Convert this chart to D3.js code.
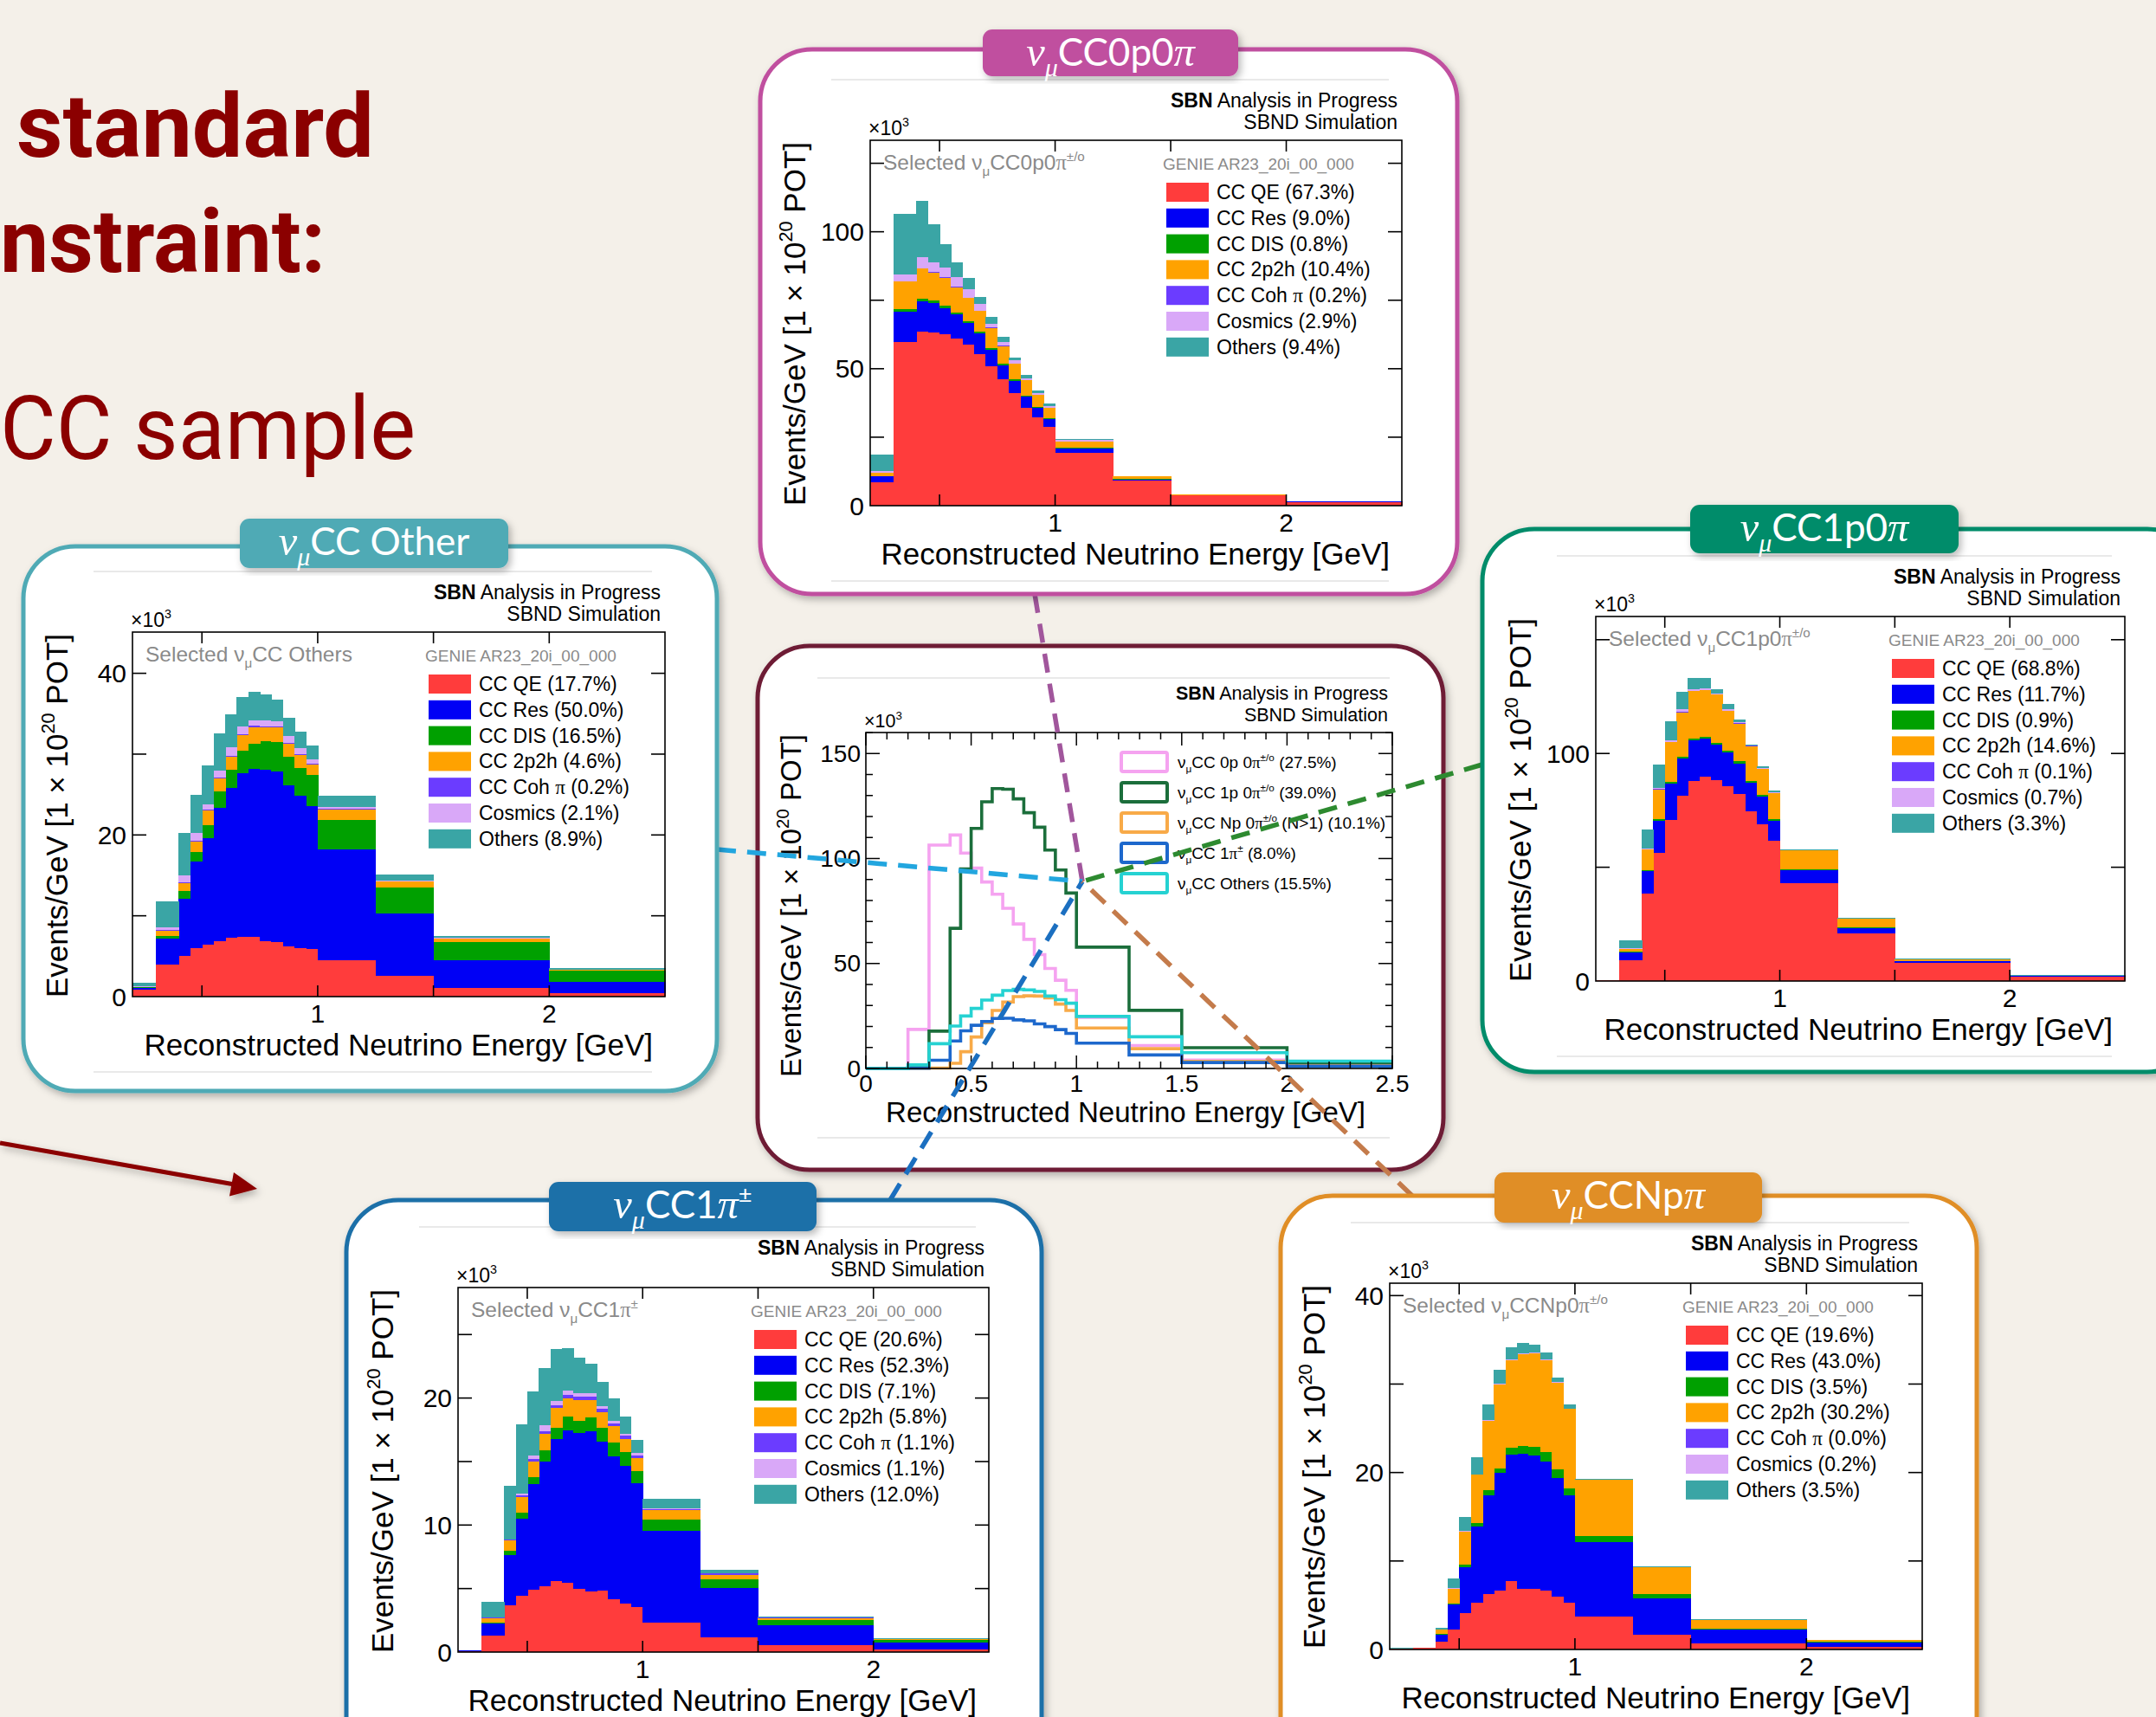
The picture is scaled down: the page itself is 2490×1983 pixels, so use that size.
<!DOCTYPE html>
<html><head><meta charset="utf-8">
<script src="https://cdn.jsdelivr.net/npm/d3@7"></script>
<style>html,body{margin:0;padding:0;background:#f4f0e9;}svg{display:block}</style>
</head><body>
<svg id="c" width="2490" height="1983"></svg>
<script>
// ---------------- DATA ----------------
const edges = [0.2,0.3,0.4,0.45,0.5,0.55,0.6,0.65,0.7,0.75,0.8,0.85,0.9,0.95,1.0,1.25,1.5,2.0,2.5];
const compKeys = ["qe","res","dis","mec","coh","cos","oth"];
const compNames = ["CC QE","CC Res","CC DIS","CC 2p2h","CC Coh #pi","Cosmics","Others"];
const compColors = ["#ff3c3c","#0000f5","#00a000","#ffa200","#6b3cff","#d9a8f8","#3aa5a5"];

// nu_mu CC0p0pi (x10^3 events/GeV)
const cc0p0pi_qe  = [8.6,59.9,63.6,63.2,62.5,60.9,58.8,55.4,50.9,46.1,41.0,35.6,32.1,28.7,19.2,9.2,3.7,1.4];
const cc0p0pi_res = [2.1,11.0,11.0,10.9,9.7,8.9,8.0,7.5,6.1,5.2,4.6,4.3,3.5,2.8,1.7,0.4,0.1,0.1];
const cc0p0pi_dis = [0.1,0.9,0.9,0.8,0.8,0.7,0.6,0.6,0.6,0.5,0.4,0.4,0.4,0.3,0.3,0.1,0.05,0.02];
const cc0p0pi_mec = [1.2,10.0,11.0,10.2,10.2,9.3,8.4,7.6,7.3,6.5,5.9,5.5,4.4,3.8,2.3,1.0,0.15,0.05];
const cc0p0pi_coh = [0.0,0.2,0.2,0.2,0.1,0.1,0.1,0.1,0.1,0.1,0.1,0.1,0.1,0.1,0.0,0.0,0.0,0.0];
const cc0p0pi_cos = [0.5,2.5,4.1,3.6,3.7,3.4,3.0,2.4,1.3,1.4,1.0,0.6,0.5,0.6,0.4,0.1,0.0,0.0];
const cc0p0pi_oth = [6.1,21.9,20.4,13.7,8.4,5.5,4.1,2.7,2.5,1.7,1.2,1.1,1.0,0.9,0.5,0.1,0.05,0.05];
const cc0p0pi_pct = [67.3,9.0,0.8,10.4,0.2,2.9,9.4];

// nu_mu CC Other
const ccOther_qe  = [0.86,4.0,5.0,6.0,6.4,6.9,7.3,7.4,7.4,6.9,6.7,6.2,6.0,5.9,4.45,2.6,1.1,0.48];
const ccOther_res = [0.25,3.2,7.1,10.7,13.2,16.5,18.5,20.2,20.8,21.2,21.1,19.9,18.8,17.7,13.75,7.7,3.4,1.3];
const ccOther_dis = [0.05,0.3,1.0,1.2,1.6,2.0,2.3,2.8,3.1,3.5,3.7,3.6,3.5,3.8,3.7,3.2,2.3,1.45];
const ccOther_mec = [0.05,0.65,0.9,1.3,1.8,1.6,1.6,2.0,2.0,1.7,1.8,1.6,1.6,1.3,1.2,0.7,0.4,0.1];
const ccOther_coh = [0.0,0.1,0.1,0.1,0.1,0.1,0.1,0.1,0.2,0.1,0.1,0.1,0.1,0.1,0.1,0.05,0.02,0.01];
const ccOther_cos = [0.05,0.35,0.9,0.9,0.7,0.9,1.0,0.9,0.7,0.8,0.7,0.8,0.7,0.6,0.3,0.1,0.05,0.01];
const ccOther_oth = [0.45,3.2,5.2,4.8,4.8,4.6,4.1,3.7,3.5,3.2,2.6,2.3,2.1,1.7,1.3,0.75,0.25,0.15];
const ccOther_pct = [17.7,50.0,16.5,4.6,0.2,2.1,8.9];

// nu_mu CC1p0pi
const cc1p0pi_qe  = [0.3,9.2,38.4,56.3,70.6,81.3,87.9,89.9,88.3,85.5,82.2,74.7,69.0,61.5,42.9,20.8,7.9,1.9];
const cc1p0pi_res = [0.05,3.3,9.9,14.0,16.0,16.5,17.7,16.7,15.7,14.8,13.5,12.4,11.9,8.8,5.8,2.5,0.8,0.3];
const cc1p0pi_dis = [0.0,0.3,0.3,0.7,0.8,0.8,0.8,0.7,0.8,0.8,0.8,0.8,0.8,0.7,0.5,0.3,0.1,0.05];
const cc1p0pi_mec = [0.0,1.4,9.1,13.2,17.5,19.5,21.1,20.6,21.1,17.7,16.7,15.4,11.5,11.7,8.2,3.8,0.8,0.2];
const cc1p0pi_coh = [0.0,0.0,0.05,0.1,0.1,0.1,0.1,0.1,0.1,0.1,0.1,0.05,0.05,0.05,0.02,0.0,0.0,0.0];
const cc1p0pi_cos = [0.0,0.4,0.5,0.7,0.6,1.1,0.8,0.6,0.3,0.7,0.6,0.3,0.5,0.3,0.1,0.05,0.0,0.0];
const cc1p0pi_oth = [0.15,3.2,8.5,10.0,8.7,7.7,4.9,4.4,2.1,2.2,1.0,0.35,0.8,0.5,0.25,0.25,0.3,0.1];
const cc1p0pi_pct = [68.8,11.7,0.9,14.6,0.1,0.7,3.3];

// nu_mu CC1pi+-
const cc1pi_qe  = [0.1,1.28,3.66,4.41,4.92,5.2,5.61,5.47,5.0,4.78,4.86,4.16,3.85,3.52,2.32,1.15,0.53,0.22];
const cc1pi_res = [0.05,0.98,4.0,6.1,8.32,9.77,11.18,12.0,12.26,12.57,11.73,11.23,10.79,9.78,7.21,3.91,1.59,0.56];
const cc1pi_dis = [0.0,0.09,0.34,0.48,0.53,0.9,0.84,1.06,0.92,1.1,1.09,1.11,1.11,0.97,0.92,0.69,0.37,0.17];
const cc1pi_mec = [0.0,0.33,0.78,1.2,1.2,1.28,1.59,1.45,1.68,1.4,1.2,1.27,1.04,0.98,0.75,0.34,0.19,0.05];
const cc1pi_coh = [0.0,0.03,0.05,0.14,0.2,0.2,0.22,0.28,0.28,0.28,0.28,0.22,0.22,0.2,0.08,0.08,0.03,0.01];
const cc1pi_cos = [0.0,0.03,0.05,0.14,0.28,0.5,0.34,0.3,0.22,0.28,0.23,0.2,0.19,0.22,0.06,0.06,0.02,0.01];
const cc1pi_oth = [0.02,1.2,4.2,5.44,5.1,4.52,4.05,3.35,2.8,2.3,1.87,1.76,1.32,1.03,0.7,0.22,0.09,0.04];
const cc1pi_pct = [20.6,52.3,7.1,5.8,1.1,1.1,12.0];

// nu_mu CCNppi
const ccNppi_qe  = [0.12,0.15,0.88,2.29,4.09,5.3,6.3,6.62,7.7,6.9,6.82,6.7,5.98,5.3,3.69,1.69,0.68,0.28];
const ccNppi_res = [0.02,0.05,0.81,2.81,5.22,8.62,11.15,13.32,14.3,15.25,15.13,14.52,13.43,12.1,8.43,4.13,1.53,0.48];
const ccNppi_dis = [0.0,0.0,0.12,0.12,0.28,0.4,0.55,0.56,0.82,0.88,1.0,1.05,0.93,0.85,0.72,0.4,0.16,0.08];
const ccNppi_mec = [0.0,0.0,0.4,1.68,3.73,5.42,7.84,9.47,9.91,10.37,10.53,10.43,9.83,8.92,6.3,3.09,1.0,0.24];
const ccNppi_coh = [0,0,0,0,0,0,0,0,0,0,0,0,0,0,0,0,0,0];
const ccNppi_cos = [0.0,0.0,0.02,0.05,0.05,0.06,0.08,0.06,0.07,0.06,0.05,0.05,0.05,0.05,0.03,0.02,0.0,0.0];
const ccNppi_oth = [0.01,0.0,0.26,1.05,1.63,1.94,1.73,1.62,1.4,1.14,0.95,0.85,0.47,0.43,0.09,0.1,0.04,0.04];
const ccNppi_pct = [19.6,43.0,3.5,30.2,0.0,0.2,3.5];

// centre overview
const centerLabels = ["#nu_{#mu}CC 0p 0#pi^{±/o} (27.5%)","#nu_{#mu}CC 1p 0#pi^{±/o} (39.0%)","#nu_{#mu}CC Np 0#pi^{±/o} (N>1) (10.1%)","#nu_{#mu}CC 1#pi^{±} (8.0%)","#nu_{#mu}CC Others (15.5%)"];
const centerColors = ["#f5a3f0","#1b6e3b","#f8aa48","#1d68cc","#25d2d2"];
const centerXTicks = [0,0.5,1,1.5,2,2.5];
const centerXTickLabels = ["0","0.5","1","1.5","2","2.5"];
const centerYTicks = [0,50,100,150];

const sideXTicks = [0.5,1,1.5,2];
const sideXTickLabels = [1,2];

// ---------------- LAYOUT ----------------
const svg = d3.select("#c");
const defs = svg.append("defs");
const flt = defs.append("filter").attr("id","sh").attr("x","-10%").attr("y","-10%").attr("width","125%").attr("height","125%");
flt.append("feDropShadow").attr("dx",3).attr("dy",4).attr("stdDeviation",4).attr("flood-color","#000").attr("flood-opacity",0.28);

svg.append("rect").attr("width",2490).attr("height",1983).attr("fill","#f4f0e9");

const SANS = "'Liberation Sans', Arial, Helvetica, sans-serif";

// rich text: #nu #mu #pi, _{sub}, ^{sup}
function rich(sel, str, size, opts) {
  opts = opts || {};
  const greek = {"#nu":"ν","#mu":"μ","#pi":"π"};
  const toks = str.split(/(_\{[^}]*\}|\^\{[^}]*\})/).filter(s => s.length);
  let shift = 0;
  toks.forEach(tok => {
    let mode = 0, body = tok;
    if (tok.startsWith("_{")) { mode = 1; body = tok.slice(2,-1); }
    else if (tok.startsWith("^{")) { mode = 2; body = tok.slice(2,-1); }
    const target = mode===1 ? 0.27*size : mode===2 ? -0.42*size : 0;
    const fs = mode ? 0.62*size : size;
    const pieces = body.split(/(#nu|#mu|#pi)/).filter(s => s.length);
    let first = true;
    pieces.forEach(p => {
      const isG = greek[p] !== undefined;
      const ts = sel.append("tspan").text(isG ? greek[p] : p).attr("font-size", fs);
      if (first) { ts.attr("dy", target - shift); first = false; }
      if (isG && p === "#pi" && !opts.tab) ts.attr("font-family","'Liberation Serif', serif");
      if (isG && opts.tab) ts.attr("font-family","'Liberation Serif', serif").attr("font-style","italic").attr("font-size", fs*1.1);
    });
    shift = target;
  });
}

// ---------------- TITLE TEXT ----------------
svg.append("text").attr("x",19).attr("y",181).attr("font-family","Roboto, sans-serif").attr("font-weight",700)
  .attr("font-size",102).attr("fill","#8b0000").attr("textLength",413).attr("lengthAdjust","spacingAndGlyphs").text("standard");
svg.append("text").attr("x",0).attr("y",314).attr("font-family","Roboto, sans-serif").attr("font-weight",700)
  .attr("font-size",102).attr("fill","#8b0000").attr("textLength",376).attr("lengthAdjust","spacingAndGlyphs").text("nstraint:");
svg.append("text").attr("x",0).attr("y",530).attr("font-family","Roboto, sans-serif").attr("font-weight",400)
  .attr("font-size",102).attr("fill","#8b0000").attr("textLength",480).attr("lengthAdjust","spacingAndGlyphs").text("CC sample");

// arrow
(function(){
  const x0=0,y0=1320,x1=297,y1=1373;
  const a=Math.atan2(y1-y0,x1-x0), L=30, hw=14;
  const bx=x1-L*Math.cos(a), by=y1-L*Math.sin(a);
  const g=svg.append("g").attr("filter","url(#sh)");
  g.append("line").attr("x1",x0).attr("y1",y0).attr("x2",bx+2).attr("y2",by).attr("stroke","#8b0000").attr("stroke-width",5);
  g.append("path").attr("d",`M${x1},${y1}L${bx-hw*Math.sin(a)},${by+hw*Math.cos(a)}L${bx+hw*Math.sin(a)},${by-hw*Math.cos(a)}Z`).attr("fill","#8b0000");
})();

function boxAndText(g, cfg) {
  const [bx0,by0,bx1,by1] = cfg.box;
  g.append("rect").attr("x",bx0).attr("y",by0).attr("width",bx1-bx0).attr("height",by1-by0)
    .attr("rx",60).attr("fill","#fff").attr("stroke",cfg.color).attr("stroke-width",5).attr("filter","url(#sh)");
}

function header(g, fx0, fy0, fx1, fs) {
  const t1 = g.append("text").attr("x",fx1-5).attr("y",fy0-38).attr("text-anchor","end").attr("font-family",SANS).attr("font-size",fs).attr("fill","#000");
  t1.append("tspan").attr("font-weight","bold").text("SBN");
  t1.append("tspan").text(" Analysis in Progress");
  g.append("text").attr("x",fx1-5).attr("y",fy0-13).attr("text-anchor","end").attr("font-family",SANS).attr("font-size",fs).text("SBND Simulation");
  const t3 = g.append("text").attr("x",fx0-2).attr("y",fy0-6).attr("font-family",SANS).attr("font-size",fs);
  rich(t3, "×10^{3}", fs);
}

function axisTitles(g, fx0, fy0, fx1, fy1, fs, dxT, dyT) {
  g.append("text").attr("x",fx1-dxT).attr("y",fy1+dyT).attr("text-anchor","end").attr("font-family",SANS).attr("font-size",fs)
    .text("Reconstructed Neutrino Energy [GeV]");
  const yt = g.append("text").attr("transform",`translate(${fx0-75},${fy0+2}) rotate(-90)`).attr("text-anchor","end")
    .attr("font-family",SANS).attr("font-size",fs);
  rich(yt, "Events/GeV [1 × 10^{20} POT]", fs);
}

// ---------------- SIDE PANEL ----------------
function sidePanel(cfg) {
  const g = svg.append("g");
  boxAndText(g, cfg);
  const [fx0,fy0,fx1,fy1] = cfg.frame;
  [fy0-70, fy1+87].forEach(yy => g.append("line").attr("x1",fx0-45).attr("x2",fx1-15).attr("y1",yy).attr("y2",yy).attr("stroke","#e2e2e2").attr("stroke-width",1.5));

  const x = d3.scaleLinear().domain([0.2,2.5]).range([fx0,fx1]);
  const y = d3.scaleLinear().domain([0,cfg.ymax]).range([fy1,fy0]);
  const rows = edges.slice(0,-1).map((e,i) => {
    const r = {lo:e, hi:edges[i+1]};
    compKeys.forEach((k,j) => r[k] = cfg.data[j][i]);
    return r;
  });
  const series = d3.stack().keys(compKeys)(rows);
  g.append("g").selectAll("g").data(series).join("g").attr("fill",(d,i)=>compColors[i])
    .selectAll("rect").data(d=>d).join("rect")
    .attr("x",d=>x(d.data.lo)).attr("width",d=>x(d.data.hi)-x(d.data.lo)+0.6)
    .attr("y",d=>y(d[1])).attr("height",d=>Math.max(0,y(d[0])-y(d[1])))
    .attr("shape-rendering","crispEdges");

  g.append("rect").attr("x",fx0).attr("y",fy0).attr("width",fx1-fx0).attr("height",fy1-fy0).attr("fill","none").attr("stroke","#000").attr("stroke-width",1.6);
  const tk = g.append("g").attr("stroke","#000").attr("stroke-width",1.6);
  sideXTicks.forEach(v => {
    tk.append("line").attr("x1",x(v)).attr("x2",x(v)).attr("y1",fy1).attr("y2",fy1-13);
    tk.append("line").attr("x1",x(v)).attr("x2",x(v)).attr("y1",fy0).attr("y2",fy0+13);
  });
  cfg.yTicks.forEach(v => {
    tk.append("line").attr("x1",fx0).attr("x2",fx0+16).attr("y1",y(v)).attr("y2",y(v));
    tk.append("line").attr("x1",fx1).attr("x2",fx1-16).attr("y1",y(v)).attr("y2",y(v));
  });
  cfg.yLabels.forEach(v => g.append("text").attr("x",fx0-7).attr("y",y(v)+10.5).attr("text-anchor","end").attr("font-family",SANS).attr("font-size",30).text(v));
  sideXTickLabels.forEach(v => g.append("text").attr("x",x(v)).attr("y",fy1+30).attr("text-anchor","middle").attr("font-family",SANS).attr("font-size",30).text(v));

  header(g, fx0, fy0, fx1, 23);
  const st = g.append("text").attr("x",fx0+15).attr("y",fy0+34).attr("font-family",SANS).attr("font-size",24.5).attr("fill","#8a8a8a");
  rich(st, cfg.selected, 24.5);
  g.append("text").attr("x",fx0+338).attr("y",fy0+34).attr("font-family",SANS).attr("font-size",19).attr("fill","#8a8a8a").text("GENIE AR23_20i_00_000");
  compNames.forEach((n,i) => {
    const yy = fy0+49+i*29.8;
    g.append("rect").attr("x",fx0+342).attr("y",yy).attr("width",49).attr("height",22).attr("fill",compColors[i]);
    const t = g.append("text").attr("x",fx0+400).attr("y",yy+19).attr("font-family",SANS).attr("font-size",23);
    rich(t, `${n} (${cfg.pct[i].toFixed(1)}%)`, 23);
  });
  axisTitles(g, fx0, fy0, fx1, fy1, 35, 14, 68);

  const [tx0,ty0,tx1,ty1] = cfg.tab;
  g.append("rect").attr("x",tx0).attr("y",ty0).attr("width",tx1-tx0).attr("height",ty1-ty0).attr("rx",11)
    .attr("fill",cfg.color).attr("filter","url(#sh)");
  const tt = g.append("text").attr("x",(tx0+tx1)/2).attr("y",ty0+42).attr("text-anchor","middle")
    .attr("font-family","Lato, 'Open Sans', sans-serif").attr("font-size",44).attr("fill","#fff");
  rich(tt, cfg.tabLabel, 44, {tab:true});
}

// ---------------- CENTER PANEL ----------------
function centerPanel() {
  const cfg = {box:[875,746,1667,1351], color:"#6e1a34"};
  const g = svg.append("g");
  boxAndText(g, cfg);
  const fx0=1000, fy0=846, fx1=1608, fy1=1234;
  [fy0-63, fy1+80].forEach(yy => g.append("line").attr("x1",fx0-56).attr("x2",fx1-3).attr("y1",yy).attr("y2",yy).attr("stroke","#e2e2e2").attr("stroke-width",1.5));
  const x = d3.scaleLinear().domain([0,2.5]).range([fx0,fx1]);
  const y = d3.scaleLinear().domain([0,160]).range([fy1,fy0]);
  const samples = [
    [cc0p0pi_qe,cc0p0pi_res,cc0p0pi_dis,cc0p0pi_mec,cc0p0pi_coh,cc0p0pi_cos,cc0p0pi_oth],
    [cc1p0pi_qe,cc1p0pi_res,cc1p0pi_dis,cc1p0pi_mec,cc1p0pi_coh,cc1p0pi_cos,cc1p0pi_oth],
    [ccNppi_qe,ccNppi_res,ccNppi_dis,ccNppi_mec,ccNppi_coh,ccNppi_cos,ccNppi_oth],
    [cc1pi_qe,cc1pi_res,cc1pi_dis,cc1pi_mec,cc1pi_coh,cc1pi_cos,cc1pi_oth],
    [ccOther_qe,ccOther_res,ccOther_dis,ccOther_mec,ccOther_coh,ccOther_cos,ccOther_oth]
  ];
  const cEdges = [0, ...edges];
  const line = d3.line().x(d=>x(d[0])).y(d=>y(d[1])).curve(d3.curveStepAfter);
  samples.forEach((comps,si) => {
    const tot = [0, ...edges.slice(0,-1).map((e,i) => d3.sum(comps, c => c[i]))];
    const pts = cEdges.slice(0,-1).map((e,i) => [e, tot[i]]);
    pts.push([cEdges[cEdges.length-1], tot[tot.length-1]]);
    g.append("path").attr("d",line(pts)).attr("fill","none").attr("stroke",centerColors[si]).attr("stroke-width",3.6);
  });
  g.append("rect").attr("x",fx0).attr("y",fy0).attr("width",fx1-fx0).attr("height",fy1-fy0).attr("fill","none").attr("stroke","#000").attr("stroke-width",1.6);
  const tk = g.append("g").attr("stroke","#000").attr("stroke-width",1.5);
  d3.range(0,2.5001,0.1).forEach(v => {
    const major = Math.abs(v*2 - Math.round(v*2)) < 1e-6;
    const L = major ? 15 : 8;
    tk.append("line").attr("x1",x(v)).attr("x2",x(v)).attr("y1",fy1).attr("y2",fy1-L);
    tk.append("line").attr("x1",x(v)).attr("x2",x(v)).attr("y1",fy0).attr("y2",fy0+L);
  });
  d3.range(0,160.001,10).forEach(v => {
    const L = (v % 50 === 0) ? 16 : 8;
    tk.append("line").attr("x1",fx0).attr("x2",fx0+L).attr("y1",y(v)).attr("y2",y(v));
    tk.append("line").attr("x1",fx1).attr("x2",fx1-L).attr("y1",y(v)).attr("y2",y(v));
  });
  centerYTicks.forEach(v => g.append("text").attr("x",fx0-6).attr("y",y(v)+9.5).attr("text-anchor","end").attr("font-family",SANS).attr("font-size",28).text(v));
  centerXTicks.forEach((v,i) => g.append("text").attr("x",x(v)).attr("y",fy1+27).attr("text-anchor","middle").attr("font-family",SANS).attr("font-size",28).text(centerXTickLabels[i]));
  header(g, fx0, fy0, fx1, 21.5);
  centerLabels.forEach((lab,i) => {
    const yy = 867 + i*35;
    g.append("rect").attr("x",1295).attr("y",yy+2).attr("width",53).attr("height",22).attr("fill","#fff").attr("stroke",centerColors[i]).attr("stroke-width",4).attr("rx",2);
    const t = g.append("text").attr("x",1360).attr("y",yy+20).attr("font-family",SANS).attr("font-size",19);
    rich(t, lab, 19);
  });
  axisTitles(g, fx0, fy0, fx1, fy1, 33, 31, 62);
}

centerPanel();

// ---------------- CONNECTORS ----------------
const conv = [1250,1018];
const connectors = [
  {to:[1195,686], c:"#a1569c"},
  {to:[828,981], c:"#22a6df"},
  {to:[1712,883], c:"#2d8a30"},
  {to:[1028,1386], c:"#1b6fc0"},
  {to:[1631,1381], c:"#c47b4b"}
];
connectors.forEach(k => {
  svg.append("line").attr("x1",k.to[0]).attr("y1",k.to[1]).attr("x2",conv[0]).attr("y2",conv[1])
    .attr("stroke",k.c).attr("stroke-width",5.5).attr("stroke-dasharray","22,13");
});

// ---------------- SIDE PANELS ----------------
sidePanel({
  box:[878,57,1683,686], frame:[1005,162,1619,584], tab:[1135,34,1430,88], color:"#c04f9f",
  ymax:133.4, yTicks:[25,50,75,100,125], yLabels:[0,50,100],
  data:[cc0p0pi_qe,cc0p0pi_res,cc0p0pi_dis,cc0p0pi_mec,cc0p0pi_coh,cc0p0pi_cos,cc0p0pi_oth], pct:cc0p0pi_pct,
  selected:"Selected #nu_{#mu}CC0p0#pi^{±/o}", tabLabel:"#nu_{#mu}CC0p0#pi"
});
sidePanel({
  box:[27,631,828,1260], frame:[153,730,768,1151], tab:[277,599,587,656], color:"#50aab5",
  ymax:45.1, yTicks:[10,20,30,40], yLabels:[0,20,40],
  data:[ccOther_qe,ccOther_res,ccOther_dis,ccOther_mec,ccOther_coh,ccOther_cos,ccOther_oth], pct:ccOther_pct,
  selected:"Selected #nu_{#mu}CC Others", tabLabel:"#nu_{#mu}CC Other"
});
sidePanel({
  box:[1712,611,2540,1238], frame:[1843,712,2454,1133], tab:[1952,583,2262,639], color:"#008c6a",
  ymax:160.2, yTicks:[50,100,150], yLabels:[0,100],
  data:[cc1p0pi_qe,cc1p0pi_res,cc1p0pi_dis,cc1p0pi_mec,cc1p0pi_coh,cc1p0pi_cos,cc1p0pi_oth], pct:cc1p0pi_pct,
  selected:"Selected #nu_{#mu}CC1p0#pi^{±/o}", tabLabel:"#nu_{#mu}CC1p0#pi"
});
sidePanel({
  box:[400,1386,1203,2050], frame:[529,1487,1142,1908], tab:[634,1365,943,1422], color:"#1f70a8",
  ymax:28.7, yTicks:[5,10,15,20,25], yLabels:[0,10,20],
  data:[cc1pi_qe,cc1pi_res,cc1pi_dis,cc1pi_mec,cc1pi_coh,cc1pi_cos,cc1pi_oth], pct:cc1pi_pct,
  selected:"Selected #nu_{#mu}CC1#pi^{±}", tabLabel:"#nu_{#mu}CC1#pi^{±}"
});
sidePanel({
  box:[1479,1381,2283,2050], frame:[1605,1482,2220,1905], tab:[1726,1354,2035,1412], color:"#e08e26",
  ymax:41.4, yTicks:[10,20,30,40], yLabels:[0,20,40],
  data:[ccNppi_qe,ccNppi_res,ccNppi_dis,ccNppi_mec,ccNppi_coh,ccNppi_cos,ccNppi_oth], pct:ccNppi_pct,
  selected:"Selected #nu_{#mu}CCNp0#pi^{±/o}", tabLabel:"#nu_{#mu}CCNp#pi"
});
</script>
</body></html>
